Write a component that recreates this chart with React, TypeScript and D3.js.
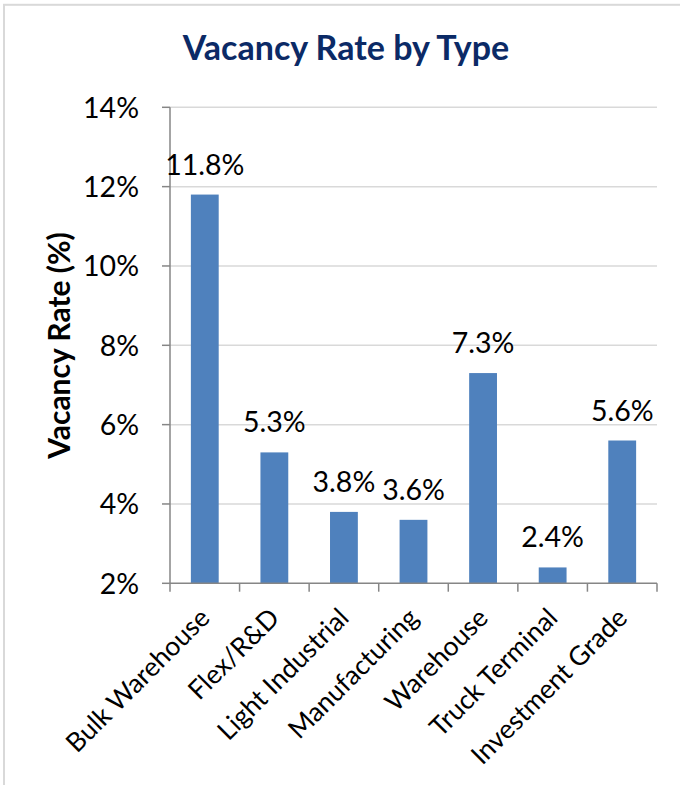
import React from "react";
import * as d3 from "d3";

// Vacancy rate per property type, in percent
const categories: string[] = [
  "Bulk Warehouse",
  "Flex/R&D",
  "Light Industrial",
  "Manufacturing",
  "Warehouse",
  "Truck Terminal",
  "Investment Grade",
];
const vacancy: number[] = [11.8, 5.3, 3.8, 3.6, 7.3, 2.4, 5.6];
const yTicks: number[] = [2, 4, 6, 8, 10, 12, 14];

const W = 680;
const H = 785;
const FONT = "Lato, 'Open Sans', sans-serif";

export default function App() {
  const left = 170;
  const right = 657;
  const top = 107.3;
  const bottom = 583.3;

  const x = d3
    .scaleBand<string>()
    .domain(categories)
    .range([left, right])
    .paddingInner(0.6)
    .paddingOuter(0.3);
  const y = d3.scaleLinear().domain([2, 14]).range([bottom, top]);
  const step = x.step();
  const boundaries = d3.range(categories.length + 1).map((i) => left + i * step);

  return (
    <svg
      width={W}
      height={H}
      style={{ position: "absolute", left: 0, top: 0, background: "#fff" }}
    >
      <rect x={4} y={4.8} width={W + 10} height={H + 10} fill="#fff" stroke="#D9D9D9" strokeWidth={2} />

      <text
        x={346}
        y={60}
        textAnchor="middle"
        fontFamily={FONT}
        fontWeight={700}
        fontSize={34}
        fill="#0B2A66"
      >
        Vacancy Rate by Type
      </text>

      {/* gridlines */}
      {yTicks.slice(1).map((t) => (
        <line key={"g" + t} x1={left} x2={right} y1={y(t)} y2={y(t)} stroke="#D9D9D9" strokeWidth={1.5} />
      ))}

      {/* bars */}
      {categories.map((c, i) => (
        <rect
          key={c}
          x={x(c)}
          y={y(vacancy[i])}
          width={x.bandwidth()}
          height={y(2) - y(vacancy[i])}
          fill="#4F81BD"
        />
      ))}

      {/* y axis */}
      <line x1={left} x2={left} y1={top} y2={bottom} stroke="#868686" strokeWidth={1.5} />
      {yTicks.map((t) => (
        <g key={"yt" + t}>
          <line x1={162} x2={left} y1={y(t)} y2={y(t)} stroke="#868686" strokeWidth={1.5} />
          <text
            x={139}
            y={y(t)}
            dy="0.36em"
            textAnchor="end"
            fontFamily={FONT}
            fontSize={28.5}
            fill="#000"
          >
            {t}%
          </text>
        </g>
      ))}

      {/* x axis */}
      <line x1={left} x2={right} y1={bottom} y2={bottom} stroke="#868686" strokeWidth={1.5} />
      {boundaries.map((bx, i) => (
        <line key={"xt" + i} x1={bx} x2={bx} y1={bottom} y2={591.7} stroke="#868686" strokeWidth={1.5} />
      ))}

      {/* value labels */}
      {categories.map((c, i) => (
        <text
          key={"v" + c}
          x={(x(c) as number) + x.bandwidth() / 2}
          y={y(vacancy[i]) - 20}
          textAnchor="middle"
          fontFamily={FONT}
          fontSize={28.5}
          fill="#000"
        >
          {vacancy[i].toFixed(1)}%
        </text>
      ))}

      {/* category labels */}
      {categories.map((c) => (
        <g
          key={"c" + c}
          transform={`translate(${(x(c) as number) + x.bandwidth() / 2},613) rotate(-45)`}
        >
          <text x={0} y={0} dy="0.35em" textAnchor="end" fontFamily={FONT} fontSize={26.5} fill="#000">
            {c}
          </text>
        </g>
      ))}

      {/* y axis title */}
      <text
        transform={`translate(70,345.5) rotate(-90)`}
        textAnchor="middle"
        fontFamily={FONT}
        fontWeight={700}
        fontSize={30}
        fill="#000"
      >
        Vacancy Rate (%)
      </text>
    </svg>
  );
}
